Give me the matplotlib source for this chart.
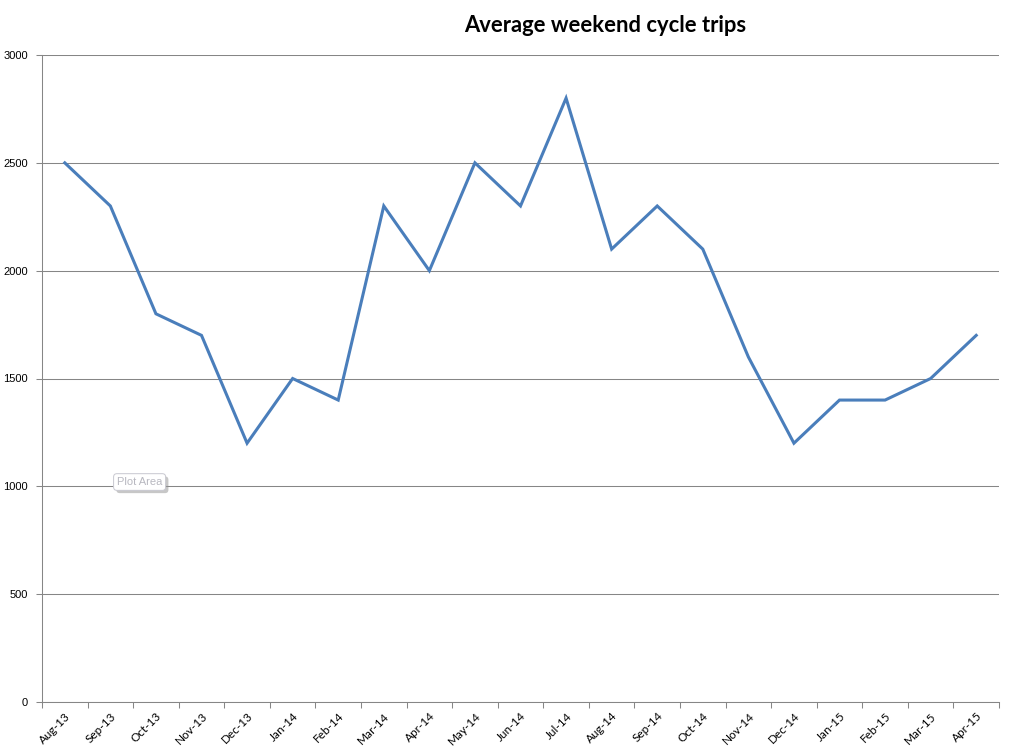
import matplotlib
matplotlib.use("Agg")
import matplotlib.pyplot as plt
import matplotlib.patheffects as pe
import numpy as np

months = ["Aug-13", "Sep-13", "Oct-13", "Nov-13", "Dec-13", "Jan-14", "Feb-14",
          "Mar-14", "Apr-14", "May-14", "Jun-14", "Jul-14", "Aug-14", "Sep-14",
          "Oct-14", "Nov-14", "Dec-14", "Jan-15", "Feb-15", "Mar-15", "Apr-15"]
trips = [2500, 2300, 1800, 1700, 1200, 1500, 1400, 2300, 2000, 2500, 2300,
         2800, 2100, 2300, 2100, 1600, 1200, 1400, 1400, 1500, 1700]
y_ticks = [0, 500, 1000, 1500, 2000, 2500, 3000]
title = "Average weekend cycle trips"

fig = plt.figure(figsize=(10.16, 7.56), dpi=100)
ax = fig.add_axes([42/1016, 1 - 702/756, (999-42)/1016, (702-55)/756])

x = np.arange(len(months))
ax.plot(x, trips, color="#4A7EBB", linewidth=2.2, solid_joinstyle="miter", zorder=3)

ax.set_xlim(-0.5, len(months) - 0.5)
ax.set_ylim(0, 3000)
ax.set_yticks(y_ticks)
ax.set_yticklabels([str(v) for v in y_ticks], fontsize=8, family="Liberation Sans")
ax.yaxis.grid(True, color="#868686", linewidth=0.75)
ax.set_axisbelow(True)

ax.set_xticks(x)
ax.set_xticklabels(months, rotation=45, ha="right", rotation_mode="anchor",
                   fontsize=8.5, family="Lato")
ax.tick_params(axis="x", length=0, pad=6)
ax.set_xticks(np.arange(-0.5, len(months), 1), minor=True)
ax.tick_params(axis="x", which="minor", length=4, color="#868686", width=0.75)
ax.tick_params(axis="y", length=4, color="#868686", width=0.75, pad=6)

for s in ["top", "right"]:
    ax.spines[s].set_visible(False)
for s in ["left", "bottom"]:
    ax.spines[s].set_color("#868686")
    ax.spines[s].set_linewidth(0.75)

fig.text(605/1016, 1 - 25/756, title, ha="center", va="center",
         fontsize=15.8, fontweight="bold", family="Lato")

# "Plot Area" tooltip artifact
t = ax.text(0.102, 0.340, "Plot Area", transform=ax.transAxes, ha="center", va="center",
            fontsize=8, color="#B8B8C0", family="Liberation Sans", zorder=5,
            bbox=dict(boxstyle="round,pad=0.3", facecolor="white", edgecolor="#C8C8D0",
                      linewidth=0.7))
t.get_bbox_patch().set_path_effects([pe.SimplePatchShadow(offset=(2, -2), shadow_rgbFace="#909090", alpha=0.5),
                                     pe.Normal()])

fig.savefig("out.png", dpi=100, facecolor="white")
